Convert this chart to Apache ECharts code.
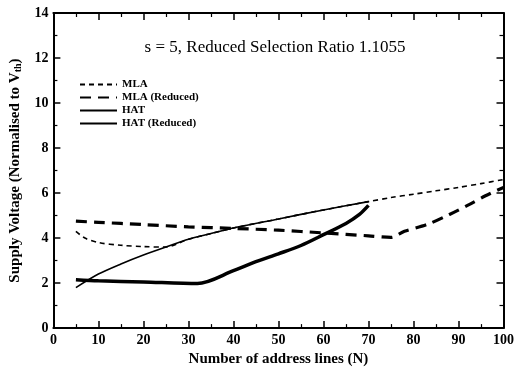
<!DOCTYPE html>
<html><head><meta charset="utf-8">
<script src="https://cdn.jsdelivr.net/npm/echarts@6/dist/echarts.min.js"></script>
<style>html,body{margin:0;padding:0;background:#fff}#c{width:517px;height:372px}</style>
</head><body><div id="c"></div>
<script>
const titleText = 's = 5, Reduced Selection Ratio 1.1055';
const xTicks = [0,10,20,30,40,50,60,70,80,90,100];
const yTicks = [0,2,4,6,8,10,12,14];
const mlaX = [5,7,10,15,20,25,30,35,40,50,60,70,75,80,85,90,95,100];
const mlaY = [4.3,4.0,3.8,3.68,3.62,3.6,3.95,4.2,4.45,4.85,5.25,5.62,5.8,5.95,6.1,6.25,6.42,6.6];
const mlaRX = [5,10,20,30,40,50,60,70,75,78,83,88,92,96,100];
const mlaRY = [4.75,4.7,4.6,4.5,4.43,4.35,4.23,4.1,4.03,4.3,4.6,5.05,5.45,5.88,6.25];
const hatX = [5,10,15,20,25,30,35,40,50,60,70];
const hatY = [1.8,2.4,2.85,3.25,3.6,3.95,4.2,4.45,4.85,5.25,5.62];
const hatRX = [5,10,20,32,40,45,50,55,60,65,68,70];
const hatRY = [2.15,2.1,2.05,1.98,2.55,2.95,3.3,3.67,4.15,4.65,5.05,5.45];
const names = ['MLA','MLA (Reduced)','HAT','HAT (Reduced)'];

const pair = (xs, ys) => xs.map((x,i)=>[x,ys[i]]);
const font = '"Liberation Serif","DejaVu Serif",serif';
const chart = echarts.init(document.getElementById('c'));
function axisCommon(){
  return {
    axisLine:{show:true,onZero:false,lineStyle:{color:'#000',width:2}},
    axisTick:{show:true,inside:true,length:7,lineStyle:{color:'#000',width:1.5}},
    minorTick:{show:true,splitNumber:2,length:4,lineStyle:{color:'#000',width:1.2}},
    splitLine:{show:false}
  };
}
chart.setOption({
  animation:false,
  backgroundColor:'#fff',
  title:{text:titleText,left:270,top:34,textAlign:'center',
    textStyle:{fontFamily:font,fontSize:17,fontWeight:'normal',color:'#000'}},
  legend:{orient:'vertical',left:74,top:74,itemWidth:37,itemHeight:12,itemGap:2,
    data:names,
    itemStyle:{opacity:0},
    textStyle:{fontFamily:font,fontSize:11,fontWeight:'bold',color:'#000'}},
  grid:{left:47,right:12,top:13,bottom:40},
  xAxis:[
    Object.assign({type:'value',min:0,max:100,interval:10,position:'bottom',
      name:'Number of address lines (N)',nameLocation:'middle',nameGap:21,
      nameTextStyle:{fontFamily:font,fontSize:15,fontWeight:'bold',color:'#000'},
      axisLabel:{fontFamily:font,fontSize:14,fontWeight:'bold',color:'#000',margin:5,
        formatter:v=>xTicks.includes(v)?String(v):''}},axisCommon()),
    Object.assign({type:'value',min:0,max:100,interval:10,position:'top',axisLabel:{show:false}},axisCommon())
  ],
  yAxis:[
    Object.assign({type:'value',min:0,max:14,interval:2,position:'left',
      name:'Supply Voltage (Normalised to V{s|th})',nameLocation:'middle',nameGap:29,nameRotate:90,
      nameTextStyle:{fontFamily:font,fontSize:15,fontWeight:'bold',color:'#000',
        rich:{s:{fontFamily:font,fontSize:10,fontWeight:'bold',verticalAlign:'bottom',padding:[6,0,0,0]}}},
      axisLabel:{fontFamily:font,fontSize:14,fontWeight:'bold',color:'#000',margin:5,
        formatter:v=>yTicks.includes(v)?String(v):''}},axisCommon()),
    Object.assign({type:'value',min:0,max:14,interval:2,position:'right',axisLabel:{show:false}},axisCommon())
  ],
  series:[
    {name:names[0],type:'line',data:pair(mlaX,mlaY),smooth:0.3,showSymbol:false,symbol:'none',
      lineStyle:{color:'#000',width:1.6,type:[5,4]},itemStyle:{color:'#000'}},
    {name:names[1],type:'line',data:pair(mlaRX,mlaRY),smooth:0.3,showSymbol:false,symbol:'none',
      lineStyle:{color:'#000',width:3.2,type:[11,7]},itemStyle:{color:'#000'}},
    {name:names[2],type:'line',data:pair(hatX,hatY),smooth:0.3,showSymbol:false,symbol:'none',
      lineStyle:{color:'#000',width:1.6},itemStyle:{color:'#000'}},
    {name:names[3],type:'line',data:pair(hatRX,hatRY),smooth:0.3,showSymbol:false,symbol:'none',
      lineStyle:{color:'#000',width:3.5},itemStyle:{color:'#000'}}
  ]
});
</script></body></html>
